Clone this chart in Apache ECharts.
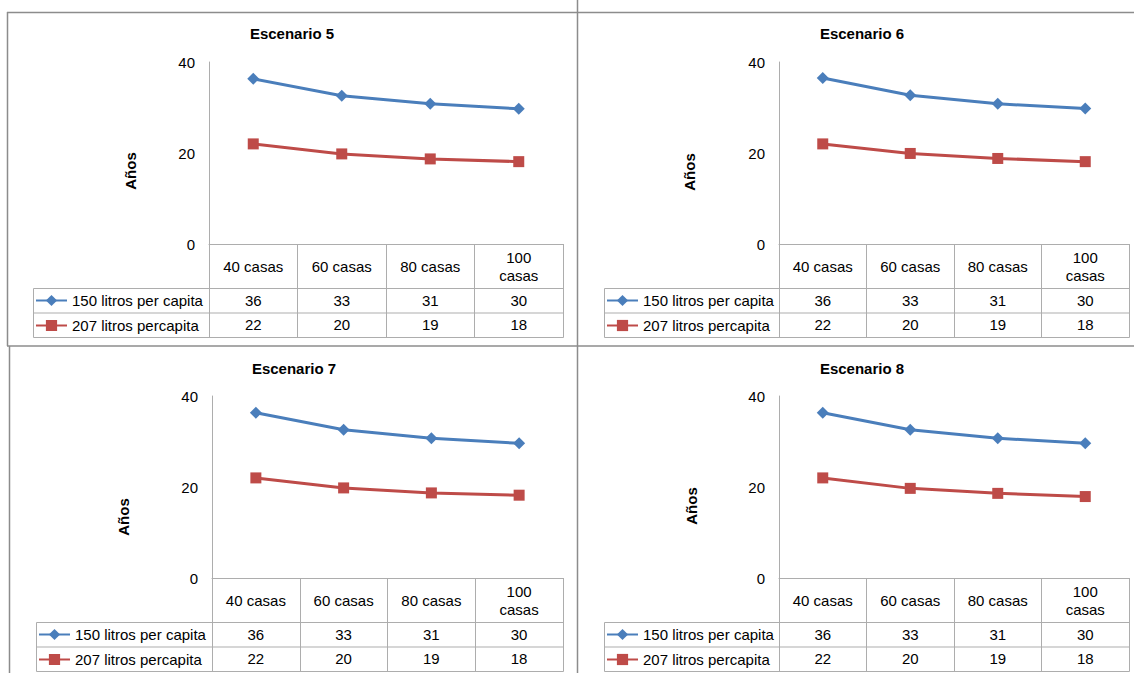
<!DOCTYPE html>
<html>
<head>
<meta charset="utf-8">
<script src="https://cdn.jsdelivr.net/npm/echarts@6/dist/echarts.min.js"></script>
<style>
html,body{margin:0;padding:0;background:#ffffff;}
#c{width:1134px;height:673px;}
</style>
</head>
<body>
<div id="c"></div>
<script>
// ---------- data ----------
const categories = ['40 casas', '60 casas', '80 casas', '100\ncasas'];
const seriesNames = ['150 litros per capita', '207 litros percapita'];
const scenarioTitles = ['Escenario 5', 'Escenario 6', 'Escenario 7', 'Escenario 8'];
const yAxisName = 'Años';
const yMin = 0, yMax = 40, yStep = 20;

const blue5 = [36.3, 32.6, 30.8, 29.7];
const red5  = [22.0, 19.8, 18.7, 18.1];
const blue6 = [36.5, 32.7, 30.8, 29.8];
const red6  = [22.0, 19.9, 18.8, 18.1];
const blue7 = [36.3, 32.6, 30.7, 29.6];
const red7  = [22.0, 19.8, 18.7, 18.2];
const blue8 = [36.3, 32.6, 30.7, 29.6];
const red8  = [22.0, 19.7, 18.6, 17.9];

// values printed in the data table
const tableBlue = ['36', '33', '31', '30'];
const tableRed  = ['22', '20', '19', '18'];

// ---------- styling / layout ----------
const FONT = "'Liberation Sans', Arial, sans-serif";
const BLUE = '#4A7EBB';
const RED = '#BE4B48';
const TABLE_C = '#ADADAD';
const FRAME_C = '#8C8C8C';
const HEADER_H = 44;
const ROW_H = 24.5;

const panels = [
  { blue: blue5, red: red5, grid: { left: 209, top: 62, width: 354, height: 182 }, legendLeft: 33, titleX: 292, titleY: 25, ylabX: 130, ylabY: 171 },
  { blue: blue6, red: red6, grid: { left: 779, top: 62, width: 350, height: 182 }, legendLeft: 604, titleX: 862, titleY: 25, ylabX: 689, ylabY: 172 },
  { blue: blue7, red: red7, grid: { left: 212, top: 396, width: 351, height: 182 }, legendLeft: 36, titleX: 294, titleY: 360, ylabX: 123, ylabY: 517 },
  { blue: blue8, red: red8, grid: { left: 779, top: 396, width: 350, height: 182 }, legendLeft: 604, titleX: 862, titleY: 360, ylabX: 691, ylabY: 506 }
];

const grids = [], xAxes = [], yAxes = [], series = [], titles = [], legends = [], graphics = [];

// panel frames
const frameLines = [
  [7, 12.5, 1134, 12.5],
  [7.5, 12, 7.5, 346],
  [577.5, 0, 577.5, 673],
  [7, 346, 1134, 346],
  [9.5, 346, 9.5, 673]
];
frameLines.forEach(l => graphics.push({
  type: 'line', silent: true, z: 1,
  shape: { x1: l[0], y1: l[1], x2: l[2], y2: l[3] },
  style: { stroke: FRAME_C, lineWidth: 1.5 }
}));

panels.forEach((p, i) => {
  const g = p.grid;
  grids.push({ left: g.left, top: g.top, width: g.width, height: g.height, containLabel: false });

  const labelStyle = { fontSize: 15, color: '#000', fontFamily: FONT };

  xAxes.push({
    type: 'category', gridIndex: i, data: categories, position: 'bottom', boundaryGap: true,
    axisLine: { show: true, lineStyle: { color: TABLE_C, width: 1 } },
    axisTick: { show: true, length: HEADER_H + 2 * ROW_H, lineStyle: { color: TABLE_C, width: 1 } },
    axisLabel: Object.assign({ interval: 0, margin: HEADER_H / 2, verticalAlign: 'middle', lineHeight: 18, align: 'center' }, labelStyle),
    splitLine: { show: false }
  });
  xAxes.push({
    type: 'category', gridIndex: i, data: tableBlue, position: 'bottom', offset: HEADER_H, boundaryGap: true,
    axisLine: { show: false }, axisTick: { show: false },
    axisLabel: Object.assign({ interval: 0, margin: ROW_H / 2, verticalAlign: 'middle' }, labelStyle)
  });
  xAxes.push({
    type: 'category', gridIndex: i, data: tableRed, position: 'bottom', offset: HEADER_H + ROW_H, boundaryGap: true,
    axisLine: { show: false }, axisTick: { show: false },
    axisLabel: Object.assign({ interval: 0, margin: ROW_H / 2, verticalAlign: 'middle' }, labelStyle)
  });

  yAxes.push({
    type: 'value', gridIndex: i, min: yMin, max: yMax, interval: yStep,
    axisLine: { show: true, lineStyle: { color: TABLE_C, width: 1 } },
    axisTick: { show: false }, splitLine: { show: false },
    axisLabel: Object.assign({ margin: 14 }, labelStyle)
  });

  series.push({
    type: 'line', name: seriesNames[0], xAxisIndex: 3 * i, yAxisIndex: i, data: p.blue,
    symbol: 'diamond', symbolSize: 12, showSymbol: true,
    lineStyle: { width: 3, color: BLUE }, itemStyle: { color: BLUE }, animation: false, z: 5
  });
  series.push({
    type: 'line', name: seriesNames[1], xAxisIndex: 3 * i, yAxisIndex: i, data: p.red,
    symbol: 'rect', symbolSize: 11, showSymbol: true,
    lineStyle: { width: 3, color: RED }, itemStyle: { color: RED }, animation: false, z: 5
  });

  titles.push({
    text: scenarioTitles[i], left: p.titleX, top: p.titleY + 1, textAlign: 'center', padding: 0,
    textStyle: { fontSize: 15, fontWeight: 'bold', color: '#000', fontFamily: FONT }
  });

  const tableTop = g.top + g.height + HEADER_H;
  legends.push({
    orient: 'vertical', left: p.legendLeft + 2, top: tableTop + 5, padding: 0,
    itemWidth: 31, itemHeight: 14, itemGap: 10, selectedMode: false,
    data: seriesNames,
    textStyle: { fontSize: 15, color: '#000', fontFamily: FONT }
  });

  // table body frame (legend column + value rows)
  const right = g.left + g.width;
  graphics.push({
    type: 'rect', silent: true, z: 2,
    shape: { x: p.legendLeft + 0.5, y: tableTop + 0.5, width: right - p.legendLeft, height: 2 * ROW_H },
    style: { fill: 'none', stroke: TABLE_C, lineWidth: 1 }
  });
  graphics.push({
    type: 'line', silent: true, z: 2,
    shape: { x1: p.legendLeft, y1: tableTop + ROW_H + 0.5, x2: right, y2: tableTop + ROW_H + 0.5 },
    style: { stroke: TABLE_C, lineWidth: 1 }
  });

  // rotated axis title
  graphics.push({
    type: 'text', silent: true, z: 3, x: p.ylabX, y: p.ylabY, rotation: Math.PI / 2,
    style: { text: yAxisName, font: 'bold 15px ' + FONT, fill: '#000', align: 'center', verticalAlign: 'middle' }
  });
});

const chart = echarts.init(document.getElementById('c'), null, { renderer: 'svg' });
chart.setOption({
  animation: false,
  backgroundColor: '#ffffff',
  textStyle: { fontFamily: FONT },
  title: titles,
  legend: legends,
  grid: grids,
  xAxis: xAxes,
  yAxis: yAxes,
  series: series,
  graphic: graphics
});
</script>
</body>
</html>
